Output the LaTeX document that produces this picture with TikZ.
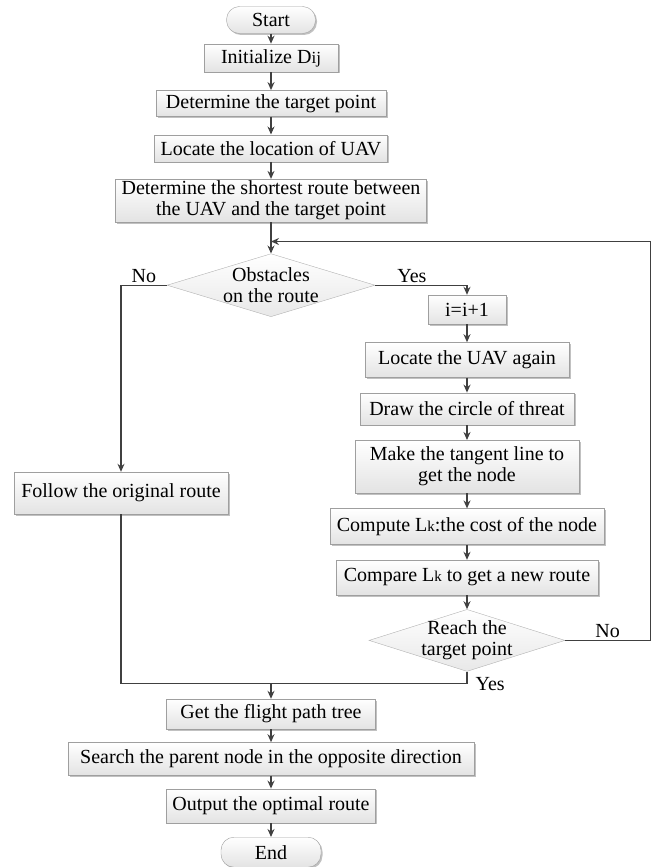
\documentclass[tikz,border=0pt]{standalone}
\usepackage{fontspec}
\setmainfont{Liberation Serif}
\usetikzlibrary{positioning, arrows.meta, shapes.geometric, shadows}

\begin{document}
\begin{tikzpicture}[
  x=1pt, y=1pt,
  font=\fontsize{20}{21}\selectfont,
  >={Stealth[length=8pt, width=7pt]},
  % --- node styles ---
  proc/.style={
    draw=gray!75, top color=white, bottom color=gray!22,
    drop shadow={shadow xshift=1.5pt, shadow yshift=-1.5pt, fill=gray!70, opacity=0.7},
    minimum height=28pt, align=center, inner xsep=6pt, inner ysep=2pt
  },
  term/.style={
    proc, rounded corners=13pt
  },
  decide/.style={
    diamond, draw=gray!60, top color=white, bottom color=gray!18,
    inner sep=0pt, minimum width=208pt, minimum height=63pt
  },
  tag/.style={inner sep=2pt},
  arr/.style={->, line width=1.3pt, draw=black!75},
  link/.style={line width=1.3pt, draw=black!75},
]
\useasboundingbox (0,0) rectangle (661,-867);

% ══════════════════════════════════════════════
% MAIN COLUMN (top)
% ══════════════════════════════════════════════

\node[term, minimum width=89pt, minimum height=27pt] (start) at (271,-20) {Start};

\node[proc, below=10pt of start, minimum width=134pt] (init)
  {Initialize D{\fontsize{17}{17}\selectfont ij}};

\node[proc, below=18pt of init, minimum width=230pt, minimum height=26pt] (target)
  {Determine the target point};

\node[proc, below=18pt of target, minimum width=230pt, minimum height=27pt] (locate)
  {Locate the location of UAV};

\node[proc, below=17pt of locate, minimum width=304pt, minimum height=40pt] (shortest)
  {Determine the shortest route between\\the UAV and the target point};

\node[decide, below=31pt of shortest,
  label={[align=center]center:Obstacles\\on the route}] (obst) {};

% ══════════════════════════════════════════════
% NO BRANCH
% ══════════════════════════════════════════════

\node[proc, minimum width=214pt, minimum height=42pt] (follow) at (121,-493)
  {Follow the original route};

% ══════════════════════════════════════════════
% YES BRANCH (right column)
% ══════════════════════════════════════════════

\node[proc, minimum width=78pt, minimum height=29pt] (inc) at (467,-309.5) {i=i+1};

\node[proc, below=18pt of inc, minimum width=204pt, minimum height=35pt] (again)
  {Locate the UAV again};

\node[proc, below=15pt of again, minimum width=214pt, minimum height=32pt] (threat)
  {Draw the circle of threat};

\node[proc, below=15pt of threat, minimum width=224pt, minimum height=53pt] (tangent)
  {Make the tangent line to\\get the node};

\node[proc, below=15pt of tangent, minimum width=274pt, minimum height=36pt] (cost)
  {Compute L{\fontsize{15}{15}\selectfont k}:the cost of the node};

\node[proc, below=15pt of cost, minimum width=262pt, minimum height=35pt] (compare)
  {Compare L{\fontsize{15}{15}\selectfont k} to get a new route};

\node[decide, below=14pt of compare, minimum width=196pt, minimum height=62pt,
  label={[align=center]center:Reach the\\target point}] (reach) {};

% ══════════════════════════════════════════════
% MAIN COLUMN (bottom)
% ══════════════════════════════════════════════

\node[proc, minimum width=209pt, minimum height=30pt] (flight) at (271,-714)
  {Get the flight path tree};

\node[proc, below=13pt of flight, minimum width=406pt, minimum height=33pt] (search)
  {Search the parent node in the opposite direction};

\node[proc, below=13pt of search, minimum width=209pt, minimum height=34pt] (output)
  {Output the optimal route};

\node[term, below=14pt of output, minimum width=100pt, minimum height=30pt] (end) {End};

% ══════════════════════════════════════════════
% FLOW ARROWS
% ══════════════════════════════════════════════

\draw[arr] (start) -- (init);
\draw[arr] (init) -- (target);
\draw[arr] (target) -- (locate);
\draw[arr] (locate) -- (shortest);
\draw[arr] (shortest) -- (obst);

\draw[arr] (obst.east) -| node[pos=0.2, above, tag] {Yes} (inc.north);
\draw[arr] (obst.west) -| node[pos=0.25, above, tag] {No} (follow.north);

\draw[arr] (inc) -- (again);
\draw[arr] (again) -- (threat);
\draw[arr] (threat) -- (tangent);
\draw[arr] (tangent) -- (cost);
\draw[arr] (cost) -- (compare);
\draw[arr] (compare) -- (reach);

% loop back above the decision
\coordinate (join) at ([yshift=12pt]obst.north);
\draw[arr] (reach.east) -- ++(85,0) node[midway, above, tag] {No} |- (join);

% both branches meet above the flight path tree
\coordinate (merge) at ([yshift=15pt]flight.north);
\draw[link] (follow.south) |- (merge);
\draw[link] (reach.south) |- node[pos=0.5, right, tag, xshift=6pt] {Yes} (merge);
\draw[arr] (merge) -- (flight);

\draw[arr] (flight) -- (search);
\draw[arr] (search) -- (output);
\draw[arr] (output) -- (end);

\end{tikzpicture}
\end{document}
